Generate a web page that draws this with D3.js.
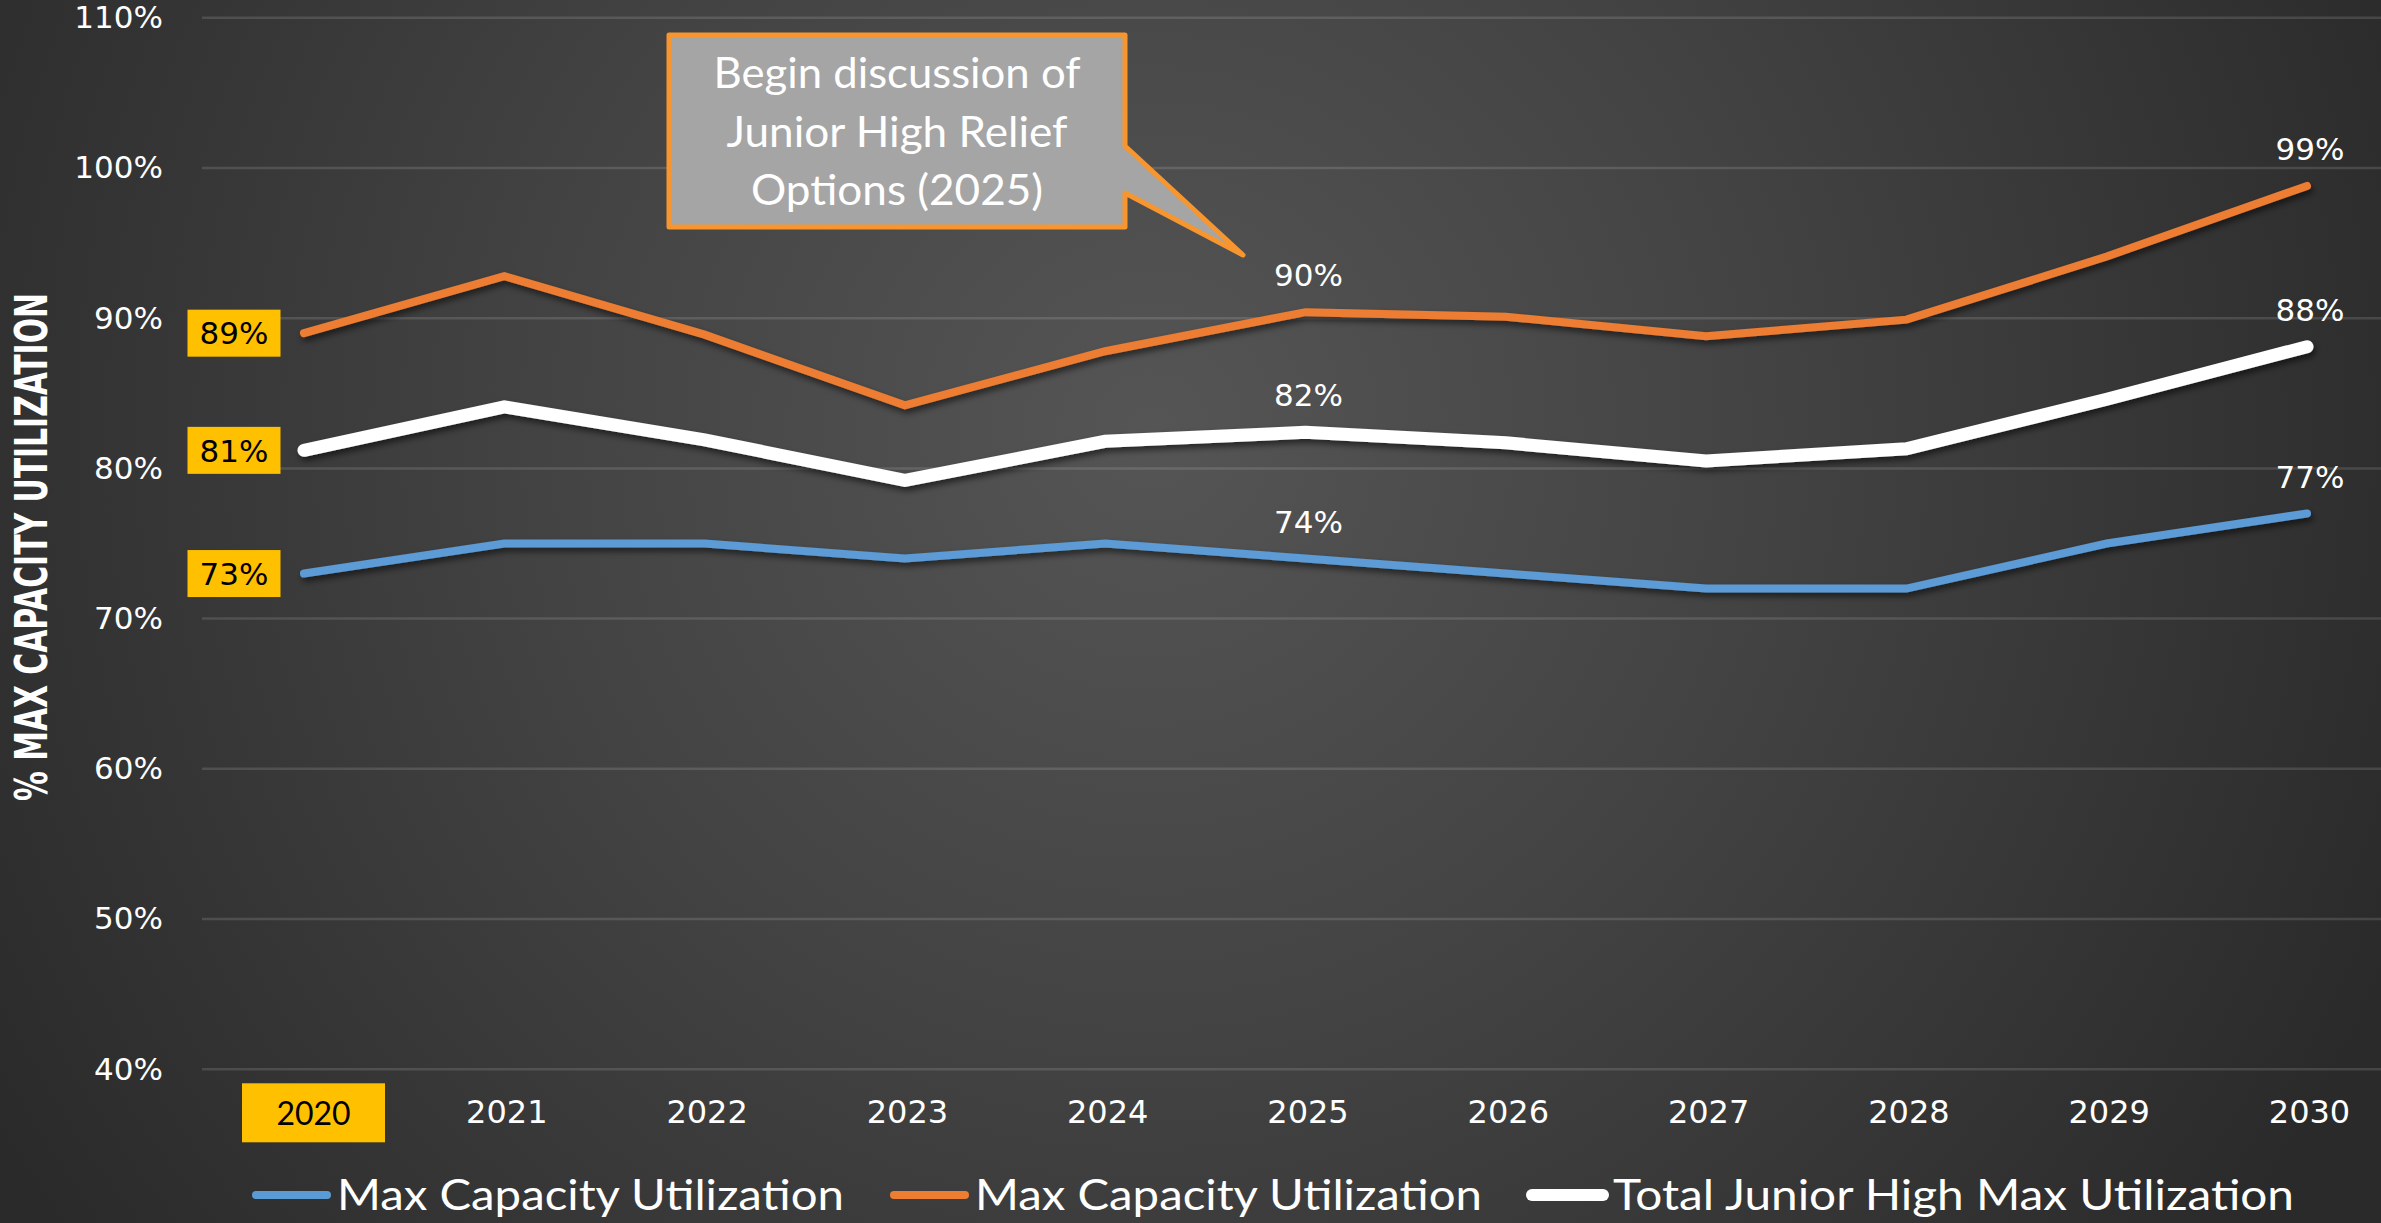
<!DOCTYPE html>
<html>
<head>
<meta charset="utf-8">
<script src="https://cdn.jsdelivr.net/npm/d3@7"></script>
<style>
html,body{margin:0;padding:0;background:#2b2b2b;overflow:hidden;}
svg{display:block;}
</style>
</head>
<body>
<svg id="chart" width="2381" height="1223"></svg>
<script>
// ---- data ----
const years = [2020, 2021, 2022, 2023, 2024, 2025, 2026, 2027, 2028, 2029, 2030];
const blueVals = [73, 75, 75, 74, 75, 74, 73, 72, 72, 75, 77];
const orangeVals = [89, 92.8, 88.9, 84.2, 87.8, 90.4, 90.1, 88.8, 89.9, 94.1, 98.8];
const whiteVals = [81.2, 84.1, 81.9, 79.2, 81.8, 82.4, 81.7, 80.5, 81.3, 84.6, 88.1];
const seriesNames = ["Max Capacity Utilization", "Max Capacity Utilization", "Total Junior High Max Utilization"];
const yTicks = [40, 50, 60, 70, 80, 90, 100, 110];
const labelYears = [2025, 2030];
const calloutLines = ["Begin discussion of", "Junior High Relief", "Options (2025)"];
const yTitle = "% MAX CAPACITY UTILIZATION";

const W = 2381, H = 1223;
const svg = d3.select("#chart");
const defs = svg.append("defs");

const grad = defs.append("radialGradient").attr("id", "bg")
  .attr("gradientUnits", "userSpaceOnUse")
  .attr("cx", 1150).attr("cy", 430).attr("r", 1350);
grad.append("stop").attr("offset", "0%").attr("stop-color", "#555555");
grad.append("stop").attr("offset", "45%").attr("stop-color", "#434343");
grad.append("stop").attr("offset", "100%").attr("stop-color", "#2a2a2a");

const sh = defs.append("filter").attr("id", "shadow")
  .attr("x", "-5%").attr("y", "-20%").attr("width", "110%").attr("height", "140%");
sh.append("feDropShadow").attr("dx", 2).attr("dy", 4).attr("stdDeviation", 3)
  .attr("flood-color", "#000").attr("flood-opacity", 0.55);

svg.append("rect").attr("width", W).attr("height", H).attr("fill", "url(#bg)");

// ---- scales ----
const plotLeft = 202, plotRight = 2381;
const x = d3.scalePoint().domain(years).range([304, 2307]);
const y = d3.scaleLinear().domain([40, 110]).range([1069.3, 17.7]);

// gridlines
svg.append("g").selectAll("line").data(yTicks).join("line")
  .attr("x1", plotLeft).attr("x2", plotRight)
  .attr("y1", d => y(d)).attr("y2", d => y(d))
  .attr("stroke", "rgba(255,255,255,0.13)").attr("stroke-width", 2.5);

// y axis labels
const yAxis = svg.append("g").attr("transform", `translate(${plotLeft},0)`)
  .call(d3.axisLeft(y).tickValues(yTicks).tickSize(0).tickPadding(39).tickFormat(d => d + "%"));
yAxis.select(".domain").remove();
yAxis.selectAll("text").attr("fill", "#ffffff")
  .style("font-family", "'DejaVu Sans', sans-serif").style("font-size", "31px");

// x axis labels
const xAxis = svg.append("g").attr("transform", `translate(2,${y(40)})`)
  .call(d3.axisBottom(x).tickSize(0).tickPadding(0).tickFormat(d => d));
xAxis.select(".domain").remove();
xAxis.selectAll(".tick").each(function(d) {
  const g = d3.select(this);
  const t = g.select("text");
  t.attr("y", 54).attr("dy", 0).attr("fill", "#ffffff")
   .style("font-family", "'DejaVu Sans', sans-serif").style("font-size", "32px");
  if (d === years[0]) {
    g.insert("rect", "text").attr("x", -64.5).attr("y", 14).attr("width", 143).attr("height", 59)
      .attr("fill", "#ffc000");
    t.attr("fill", "#000").attr("x", 7).attr("y", 56)
     .style("font-family", "Lato, 'Open Sans', sans-serif").style("font-size", "32px");
  }
});

// y axis title
svg.append("text")
  .attr("transform", `translate(47,547) rotate(-90)`)
  .attr("text-anchor", "middle")
  .attr("textLength", 508).attr("lengthAdjust", "spacingAndGlyphs")
  .attr("fill", "#ffffff")
  .style("font-family", "'DejaVu Sans Condensed', 'DejaVu Sans', sans-serif")
  .style("font-weight", "bold").style("font-size", "45px")
  .text(yTitle);

// ---- lines ----
const series = [
  { vals: blueVals, color: "#5b9bd5", width: 8 },
  { vals: orangeVals, color: "#ed7d31", width: 8 },
  { vals: whiteVals, color: "#ffffff", width: 13 }
];
const line = d3.line().x((d, i) => x(years[i])).y(d => y(d));
svg.append("g").selectAll("path").data(series).join("path")
  .attr("d", s => line(s.vals))
  .attr("fill", "none").attr("stroke", s => s.color).attr("stroke-width", s => s.width)
  .attr("stroke-linecap", "round").attr("stroke-linejoin", "miter")
  .attr("filter", "url(#shadow)");

// ---- data labels ----
const lab = svg.append("g");
series.forEach(s => {
  const v0 = s.vals[0];
  const cx = x(years[0]) - 70, cy = y(v0);
  lab.append("rect").attr("x", cx - 46.5).attr("y", cy - 23.5).attr("width", 93).attr("height", 47)
    .attr("fill", "#ffc000");
  lab.append("text").attr("x", cx).attr("y", cy).attr("dy", "0.36em").attr("text-anchor", "middle")
    .attr("fill", "#000").style("font-family", "'DejaVu Sans', sans-serif").style("font-size", "31px")
    .text(Math.round(v0) + "%");
  labelYears.forEach(yr => {
    const i = years.indexOf(yr);
    lab.append("text").attr("x", x(yr) + 3).attr("y", y(s.vals[i]) - 37).attr("dy", "0.36em")
      .attr("text-anchor", "middle").attr("fill", "#ffffff")
      .style("font-family", "'DejaVu Sans', sans-serif").style("font-size", "31px")
      .text(Math.round(s.vals[i]) + "%");
  });
});

// ---- callout ----
const co = svg.append("g");
const bx0 = 669, bx1 = 1125, by0 = 35, by1 = 227;
const tip = [1243, 255];
co.append("path")
  .attr("d", `M${bx0},${by0} L${bx1},${by0} L${bx1},146 L${tip[0]},${tip[1]} L${bx1},193 L${bx1},${by1} L${bx0},${by1} Z`)
  .attr("fill", "#a5a5a5").attr("stroke", "#f7962f").attr("stroke-width", 5).attr("stroke-linejoin", "round");
const lens = [367, 341, 292];
calloutLines.forEach((t, i) => {
  co.append("text").attr("x", (bx0 + bx1) / 2).attr("y", 73 + i * 58.5).attr("dy", "0.35em")
    .attr("text-anchor", "middle").attr("fill", "#ffffff")
    .attr("textLength", lens[i]).attr("lengthAdjust", "spacingAndGlyphs")
    .style("font-family", "Lato, 'Open Sans', sans-serif").style("font-size", "43px")
    .text(t);
});

// ---- legend ----
const legendItems = [
  { name: seriesNames[0], color: "#5b9bd5", w: 8, x0: 252, len: 507 },
  { name: seriesNames[1], color: "#ed7d31", w: 8, x0: 890, len: 507 },
  { name: seriesNames[2], color: "#ffffff", w: 12, x0: 1528, len: 681 }
];
const lg = svg.append("g");
legendItems.forEach(it => {
  lg.append("line").attr("x1", it.x0 + 4).attr("x2", it.x0 + 75).attr("y1", 1195).attr("y2", 1195)
    .attr("stroke", it.color).attr("stroke-width", it.w).attr("stroke-linecap", "round");
  lg.append("text").attr("x", it.x0 + 85).attr("y", 1210).attr("fill", "#ffffff")
    .attr("textLength", it.len).attr("lengthAdjust", "spacingAndGlyphs")
    .style("font-family", "Lato, 'Open Sans', sans-serif").style("font-size", "42px")
    .text(it.name);
});
</script>
</body>
</html>
